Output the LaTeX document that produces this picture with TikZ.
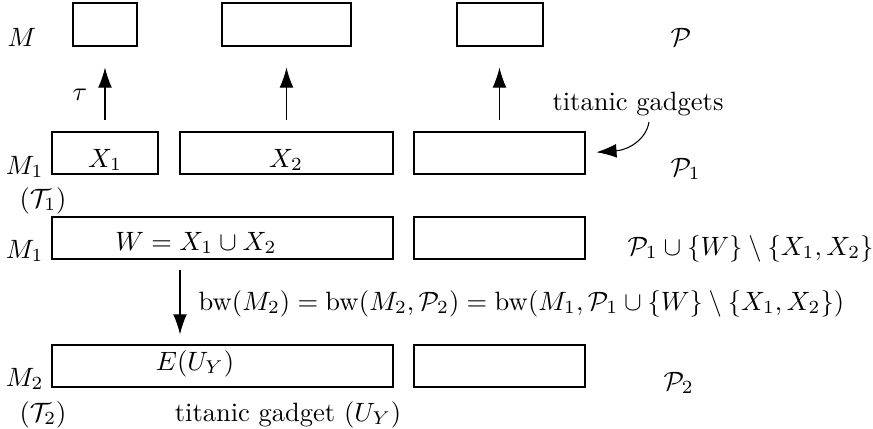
\documentclass[tikz,border=0pt]{standalone}
\usepackage{amsmath,amssymb}
\usetikzlibrary{arrows.meta,fit}
\begin{document}
\begin{tikzpicture}[x=0.3774pt,y=-0.3774pt,
  box/.style={draw,line width=0.4pt,inner sep=0pt,rectangle},
  lbl/.style={inner sep=0pt,anchor=base},
  arr/.style={line width=0.4pt,-{Latex[length=7.6pt,width=5.2pt]}}]
\useasboundingbox (0,0) rectangle (873,429);
% boxes
\node[box,fit={(73,3)(137,46)}] (t1) {};
\node[box,fit={(222,3)(351,46)}] (t2) {};
\node[box,fit={(457,3)(543,46)}] (t3) {};
\node[box,fit={(52,132)(158,174)}] (a1) {};
\node[box,fit={(180,132)(393,174)}] (a2) {};
\node[box,fit={(414,132)(585,174)}] (a3) {};
\node[box,fit={(52,217)(393,259)}] (w) {};
\node[box,fit={(414,217)(585,259)}] (w3) {};
\node[box,fit={(52,345)(393,387)}] (e) {};
\node[box,fit={(414,345)(585,387)}] (e3) {};
% labels
\node[lbl] (lM) at (22,46) {$M$};
\node[lbl] (ltau) at (80,100) {$\tau$};
\node[lbl,anchor=base east] (lM1a) at (44,174) {$M_1$};
\node[lbl] (lT1) at (43,207) {$(\mathcal{T}_1)$};
\node[lbl] (lX1) at (105,167) {$X_1$};
\node[lbl] (lX2) at (286,167) {$X_2$};
\node[lbl,anchor=base east] (lM1b) at (44,258) {$M_1$};
\node[lbl] (lW) at (196,250) {$W = X_1 \cup X_2$};
\node[lbl,anchor=base west] (lbw) at (198,310) {$\mathrm{bw}(M_2) = \mathrm{bw}(M_2,\mathcal{P}_2) = \mathrm{bw}(M_1,\mathcal{P}_1\cup\{W\}\setminus\{X_1,X_2\})$};
\node[lbl,anchor=base west] (lPW) at (627,255) {$\mathcal{P}_1\cup\{W\}\setminus\{X_1,X_2\}$};
\node[lbl] (lE) at (195,370) {$E(U_Y)$};
\node[lbl,anchor=base east] (lM2) at (44,386) {$M_2$};
\node[lbl] (lT2) at (43,421) {$(\mathcal{T}_2)$};
\node[lbl] (ltg) at (288,421) {titanic gadget $(U_Y)$};
\node[lbl] (lP) at (681,46) {$\mathcal{P}$};
\node[lbl,anchor=base west] (lP1) at (670,176) {$\mathcal{P}_1$};
\node[lbl,anchor=base west] (lP2) at (663,390) {$\mathcal{P}_2$};
\node[lbl] (ltgs) at (638,110) {titanic gadgets};
% arrows
\draw[arr,shorten <=4.5pt,shorten >=7.9pt] (a1) -- (t1);
\draw[arr,shorten <=4.5pt,shorten >=7.9pt] (a2) -- (t2);
\draw[arr,shorten <=4.5pt,shorten >=7.9pt] (a3.north) -- (t3.south -| a3.north);
\coordinate (dx) at (180,0);
\draw[arr,shorten <=4.1pt,shorten >=3.8pt] (w.south -| dx) -- (e.north -| dx);
\coordinate (cs) at (649,122);
\draw[arr,shorten >=4.1pt] (cs) .. controls (646,140) and (628,150) .. (a3.east);
\end{tikzpicture}
\end{document}
